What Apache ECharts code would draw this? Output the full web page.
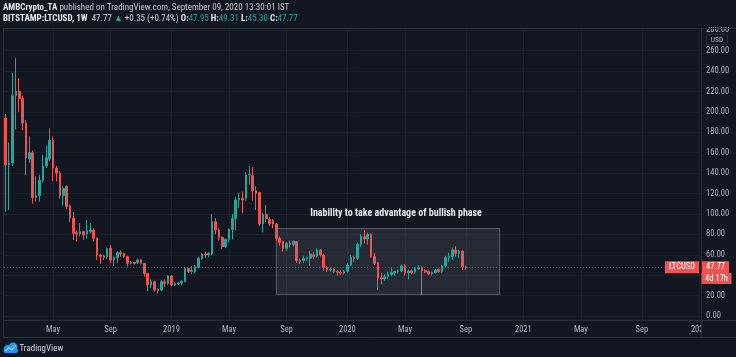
<!DOCTYPE html>
<html>
<head>
<meta charset="utf-8">
<script src="https://cdn.jsdelivr.net/npm/echarts@6/dist/echarts.min.js"></script>
<style>
html,body{margin:0;padding:0;background:#131722;}
#c{width:736px;height:357px;}
</style>
</head>
<body>
<div id="c"></div>
<script>
// ---------- data ----------
const startWeek = '2018-01-29';     // first weekly candle shown
const weeksOnAxis = 206;            // weekly slots on the time scale (incl. empty future)
// weekly LTCUSD candles: [open, close, low, high]
const ohlc = [
  [194,148,102,198],[148,150,104,170],[150,216,147,238],[216,220,183,253],[220,213,200,233],
  [213,189,182,216],[189,155,138,192],[154,160,150,176],[160,116,110,162],[116,118,112,137],
  [118,133,112,138],[133,147,131,158],[147,155,145,167],[154,172,152,184],[172,145,132,176],
  [145,140,132,147],[140,118,115,142],[118,125,108,127],[127,107,105,128],[108,96,92,109],
  [96,81,74.5,102],[81.7,80.4,73,84],[80.4,82.7,78,91],[82.7,79.4,74.5,83.5],[80.4,83.6,76,94],
  [82.7,84.3,81,91],[84.3,76.1,73,86],[76.1,59.8,55,77],[59.8,58.2,51,61],[58.8,57.5,55,60],
  [58.2,66.3,56,67],[66.3,54.9,51.6,69.6],[54.9,57.2,49,58.5],[57.2,62.1,52,63.5],[62.1,60.8,58,64],
  [61.4,58.2,57,62],[58.2,51.6,48.5,59],[51.6,52.6,50.5,54],[52.6,51.6,50.5,53],[52.3,54.9,51,55.5],
  [54.9,51.6,50.5,56],[51.6,41.8,38.5,52],[41.8,30.4,24.5,42],[30.4,33.6,27.5,36],[33.6,25.5,24,34.5],
  [26.1,25.2,22,27],[25.5,33.6,24.5,35.5],[33.6,32,28.5,36],[32,39.2,30.5,40],[39.2,30.4,29,40],
  [30.4,32,29.5,33],[31.5,32.5,30,33.5],[32.5,34,30,35],[34,46.7,33,48],[46.7,43.5,42,47],
  [43.5,44.5,41,49],[43.5,48.3,42,50],[47.7,56.5,46.5,58],[56.5,60.8,55,62],[60.8,59.8,57,63],
  [59.8,61.4,57.5,62.5],[60.8,92.4,59.5,100],[92.4,84.3,80,96],[84.3,77.1,74,86],[77.1,67.9,66,78],
  [67.9,75.1,66.5,76],[75.1,84.9,72,86],[84.9,95.7,75,100],[95.7,113.7,84,117],[113.7,115.3,106,121],
  [115.3,113.7,100.6,121.8],[115.3,138.2,113,141],[138.2,138.8,129,147],[137.5,122.8,113,146],[122.8,120.2,104,127],
  [120.9,90.2,88,122],[90.2,99.6,82,101],[99.6,95.5,92,108.8],[94.5,90.5,88,97],[93.5,90.2,86,95],
  [90.2,76.1,74,91],[76.1,71.9,69,78],[72.9,66.3,63,74],[66.3,71.2,64,72.5],[71.2,70.2,67,74],
  [70.2,72.9,68,74.5],[72.9,54.2,52,73.5],[54.2,53.6,51,56],[54.2,56.5,52,59],[56.5,57,54,58],
  [56.5,60.8,49,64],[60,58.5,56,63],[58.8,64.7,57,66.5],[64.7,59.8,58.5,65.5],[59.8,47.5,44,61],
  [47.5,45.1,43,49],[45.1,46.1,43.5,47.5],[46.1,43.5,42.5,47],[43.5,42.8,39.5,45],[42.8,42.2,40.2,44.5],
  [42.2,43.8,40.5,45],[43.8,50,42.5,52],[50,57.5,49,59.5],[57.5,56.5,53,59],[56.5,70.2,55,72],
  [70.2,77.7,68,80],[77.7,75.5,71,84.3],[75.5,80,70,81.5],[80,58.2,57,81],[58.2,51.6,50,62],
  [52.3,36.9,25.5,53],[37.6,36.3,31,42.5],[36.3,38.6,34.5,41],[38.6,41.2,36,43.5],[40.8,42.8,39,47.5],
  [42.2,43.5,39.5,44.5],[43.5,44.1,41.5,45.5],[44.1,49,43,50.5],[49,42.5,39.5,51],[42.5,44.1,36,45.5],
  [44.1,42.5,41,45.5],[43.5,46.7,41.5,48],[46.4,47.4,45,50],[47.4,44.4,20.6,48.5],[44.4,43.2,42,46],
  [43.5,41.2,40,44.5],[41.5,42.5,39.5,43.5],[42.5,45.1,41.5,46],[45.7,43.5,42.5,46.5],[43.5,49,42.5,50],
  [49,57.2,48,59],[57.2,58.2,53,62],[58.2,64.7,55,67],[64.7,61.4,58,68.5],[61.4,63.7,56.5,65],
  [63.7,48.3,45,64.5],[47.95,47.77,45.30,49.31]
];
const yTicks = [0,20,40,60,80,100,120,140,160,180,200,220,240,260,280];
const monthTickNames = {4:'May', 8:'Sep'};   // January ticks show the year
const yMin = -3.9, yMax = 282.2;
const lastPrice = 47.77;
const symbolName = 'LTCUSD';
const countdown = '4d 17h';
const boxStart = '2019-08-12', boxEnd = '2020-11-16', boxTop = 85.8, boxBottom = 21.3;
const annotation = 'Inability to take advantage of bullish phase';
const header1 = ['AMBCrypto_TA', ' published on TradingView.com, September 09, 2020 13:30:01 IST'];
const header2 = {sym:'BITSTAMP:LTCUSD, 1W', last:'47.77', chg:'+0.35 (+0.74%)', o:'47.95', h:'49.31', l:'45.30', c:'47.77'};

// ---------- build ----------
const FONT = "'Liberation Sans Narrow','Roboto Condensed',Roboto,sans-serif";
const BG = '#131722', GRID = '#1c2029', FRAME = '#2a2e39', TXT = '#b2b5be';
const UP = '#26a69a', DOWN = '#ef5350';

const weeks = [];
const t0 = Date.parse(startWeek + 'T00:00:00Z');
for (let i = 0; i < weeksOnAxis; i++) {
  weeks.push(new Date(t0 + i * 7 * 86400000).toISOString().slice(0, 10));
}
function tickName(d) {
  const m = +d.slice(5, 7) - 1, day = +d.slice(8, 10);
  if (day > 7) return null;
  if (m === 0) return d.slice(0, 4);
  return monthTickNames[m] || null;
}
const tickDates = weeks.filter(d => tickName(d) !== null);

const chart = echarts.init(document.getElementById('c'), null, {renderer: 'canvas'});
chart.setOption({
  backgroundColor: BG,
  animation: false,
  grid: {left: 4, right: 35, top: 28, bottom: 37, show: false},
  xAxis: {
    type: 'category', data: weeks, boundaryGap: true,
    axisLine: {show: false}, axisTick: {show: false}, splitLine: {show: false},
    axisLabel: {
      interval: (i, v) => tickName(v) !== null,
      formatter: v => tickName(v) || '',
      color: TXT, fontSize: 8.5, margin: 5, fontFamily: FONT
    }
  },
  yAxis: {
    type: 'value', position: 'right', min: yMin, max: yMax,
    axisLine: {show: false}, splitLine: {show: false},
    axisTick: {show: false, customValues: yTicks},
    axisLabel: {customValues: yTicks, formatter: v => v.toFixed(2), color: TXT, fontSize: 8.5, margin: 5, fontFamily: FONT}
  },
  series: [
    {
      type: 'line', data: [], z: 0, silent: true,
      markLine: {
        z: 0, silent: true, symbol: ['none', 'none'], label: {show: false},
        lineStyle: {color: GRID, width: 1, type: 'solid'},
        data: yTicks.map(v => ({yAxis: v})).concat(tickDates.map(d => ({xAxis: d})))
      }
    },
    {
      type: 'candlestick', z: 3, data: ohlc, barWidth: '62%',
      itemStyle: {color: UP, color0: DOWN, borderColor: UP, borderColor0: DOWN, borderWidth: 1},
      markArea: {
        z: 1, silent: true,
        itemStyle: {color: 'rgba(134,138,150,0.17)', borderColor: 'rgba(140,144,156,0.55)', borderWidth: 1},
        label: {show: true, position: 'top', distance: 9, offset: [8, 0], color: '#e6e8ee', fontSize: 10, fontWeight: 'bold', fontFamily: FONT},
        data: [[{name: annotation, xAxis: boxStart, yAxis: boxTop}, {xAxis: boxEnd, yAxis: boxBottom}]]
      },
      markLine: {
        z: 2, silent: true, symbol: ['none', 'none'],
        data: [
          {yAxis: lastPrice, lineStyle: {color: '#8c3a3c', type: [1, 2], width: 1, opacity: 1},
           label: {show: true, position: 'end', distance: 1, formatter: lastPrice.toFixed(2), color: '#fff',
                   backgroundColor: DOWN, padding: [2, 4, 1, 4], fontSize: 8.5, fontFamily: FONT}},
          {yAxis: lastPrice, lineStyle: {color: 'rgba(0,0,0,0)', width: 0},
           label: {show: true, position: 'insideEnd', distance: 2, formatter: symbolName, color: '#fff', opacity: 1,
                   backgroundColor: DOWN, padding: [2, 4, 1, 4], fontSize: 8.5, fontFamily: FONT}}
        ]
      }
    }
  ],
  graphic: {elements: [
    {type: 'rect', z: 40, shape: {x: 702, y: 0, width: 34, height: 27}, style: {fill: BG}},
    {type: 'line', z: 50, shape: {x1: 3, y1: 28.5, x2: 736, y2: 28.5}, style: {stroke: FRAME, lineWidth: 1}},
    {type: 'line', z: 50, shape: {x1: 3.5, y1: 28, x2: 3.5, y2: 338}, style: {stroke: FRAME, lineWidth: 1}},
    {type: 'line', z: 50, shape: {x1: 701.5, y1: 28, x2: 701.5, y2: 338}, style: {stroke: FRAME, lineWidth: 1}},
    {type: 'line', z: 50, shape: {x1: 3, y1: 320.5, x2: 736, y2: 320.5}, style: {stroke: FRAME, lineWidth: 1}},
    {type: 'line', z: 50, shape: {x1: 3, y1: 337.5, x2: 736, y2: 337.5}, style: {stroke: FRAME, lineWidth: 1}},
    {type: 'rect', z: 40, shape: {x: 702, y: 321, width: 34, height: 16}, style: {fill: BG}},
    {type: 'rect', z: 60, shape: {x: 706.5, y: 34.5, width: 21, height: 10, r: 1.5}, style: {fill: BG, stroke: FRAME, lineWidth: 1}},
    {type: 'text', z: 61, x: 717, y: 39.8, style: {text: 'USD', fill: TXT, fontSize: 7.5, fontFamily: FONT, align: 'center', verticalAlign: 'middle'}},
    {type: 'rect', z: 60, shape: {x: 701.5, y: 273, width: 30, height: 11}, style: {fill: DOWN}},
    {type: 'text', z: 61, x: 716.5, y: 278.8, style: {text: countdown, fill: '#fff', fontSize: 8.5, fontFamily: FONT, align: 'center', verticalAlign: 'middle'}},
    {type: 'text', z: 61, x: 3, y: 7.5, style: {
      text: '{b|' + header1[0] + '}{n|' + header1[1] + '}',
      rich: {b: {fill: '#e6e8ee', fontWeight: 'bold', fontSize: 9, fontFamily: FONT}, n: {fill: '#c5c8d0', fontSize: 9, fontFamily: FONT}},
      verticalAlign: 'middle', fontSize: 9, fontFamily: FONT}},
    {type: 'text', z: 61, x: 3, y: 18.5, style: {
      text: '{b|' + header2.sym + '}  {w|' + header2.last + '} {g|▲} {w|' + header2.chg + '} ' +
            '{b|O:}{g|' + header2.o + '} {b|H:}{g|' + header2.h + '} {b|L:}{g|' + header2.l + '} {b|C:}{g|' + header2.c + '}',
      rich: {b: {fill: '#e6e8ee', fontWeight: 'bold', fontSize: 9, fontFamily: FONT},
             w: {fill: '#d1d4dc', fontSize: 9, fontFamily: FONT},
             g: {fill: UP, fontSize: 9, fontFamily: FONT}},
      verticalAlign: 'middle', fontSize: 9, fontFamily: FONT}},
    {type: 'group', z: 61, children: [
      {type: 'circle', shape: {cx: 7.5, cy: 348.5, r: 3.6}, style: {fill: '#2196f3'}},
      {type: 'circle', shape: {cx: 13, cy: 347.2, r: 4.6}, style: {fill: '#2196f3'}},
      {type: 'rect', shape: {x: 3.5, y: 348.5, width: 14.5, height: 4.5, r: 2}, style: {fill: '#2196f3'}},
      {type: 'polyline', shape: {points: [[5.5, 351], [9, 347.5], [11.5, 350], [15.5, 345.5]]}, style: {stroke: '#ffffff', lineWidth: 1, fill: null}}
    ]},
    {type: 'text', z: 61, x: 19.5, y: 349, style: {text: 'TradingView', fill: '#d1d4dc', fontSize: 9, fontFamily: FONT, verticalAlign: 'middle'}}
  ]}
});
</script>
</body>
</html>
